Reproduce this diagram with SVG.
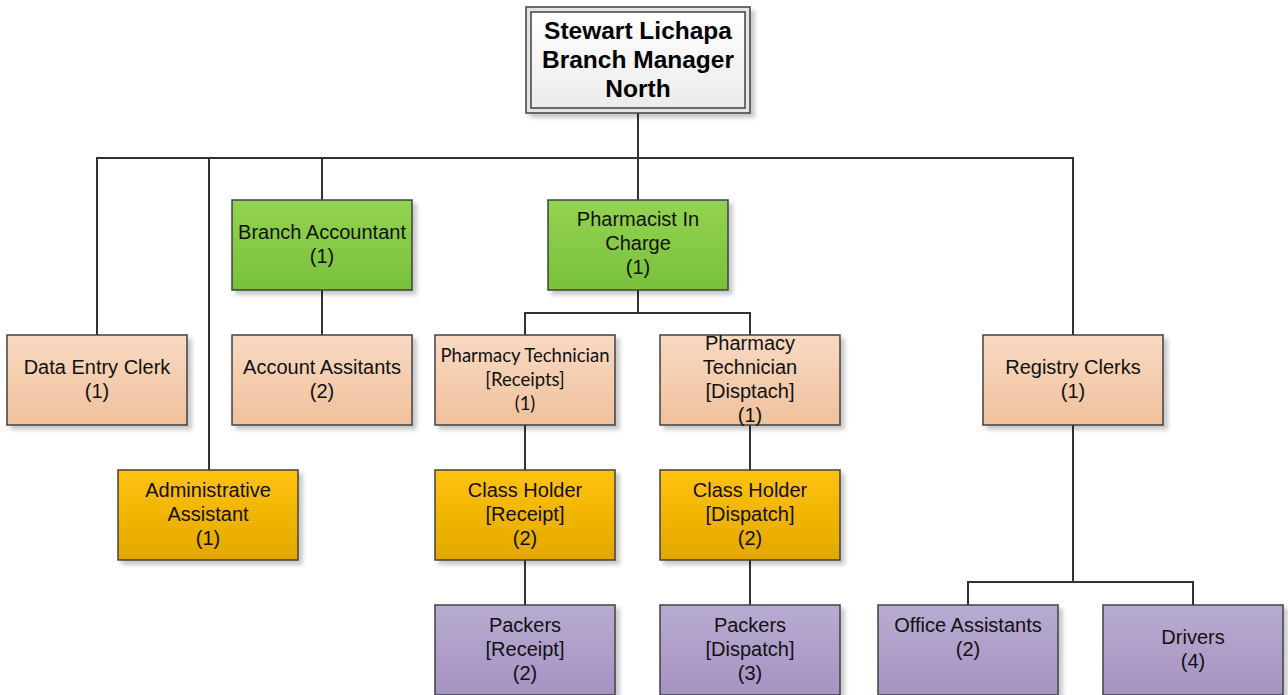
<svg xmlns="http://www.w3.org/2000/svg" width="1288" height="695" viewBox="0 0 1288 695">
  <defs>
    <linearGradient id="gGreen" x1="0" y1="0" x2="0" y2="1">
      <stop offset="0" stop-color="#94d352"/>
      <stop offset="1" stop-color="#78c13a"/>
    </linearGradient>
    <linearGradient id="gSalmon" x1="0" y1="0" x2="0" y2="1">
      <stop offset="0" stop-color="#f8d9c2"/>
      <stop offset="1" stop-color="#f0c19c"/>
    </linearGradient>
    <linearGradient id="gOrange" x1="0" y1="0" x2="0" y2="1">
      <stop offset="0" stop-color="#ffc20a"/>
      <stop offset="1" stop-color="#e3a800"/>
    </linearGradient>
    <linearGradient id="gPurple" x1="0" y1="0" x2="0" y2="1">
      <stop offset="0" stop-color="#b8abd0"/>
      <stop offset="1" stop-color="#a593c2"/>
    </linearGradient>
    <linearGradient id="gWhite" x1="0" y1="0" x2="0" y2="1">
      <stop offset="0" stop-color="#ffffff"/>
      <stop offset="1" stop-color="#ebebeb"/>
    </linearGradient>
    <filter id="shadow" x="-10%" y="-10%" width="130%" height="130%">
      <feDropShadow dx="4" dy="4" stdDeviation="2" flood-color="#000" flood-opacity="0.22"/>
    </filter>
  </defs>
  <style>
    .box { stroke: #404040; stroke-width: 1.5; filter: url(#shadow); }
    .green { fill: url(#gGreen); }
    .salmon { fill: url(#gSalmon); }
    .orange { fill: url(#gOrange); }
    .purple { fill: url(#gPurple); }
    .lbl { font-family: "Liberation Sans", Arial, sans-serif; font-size: 20px; fill: #111; text-anchor: middle; }
    .lbl2 { font-family: Lato, "Liberation Sans", sans-serif; font-size: 18.5px; fill: #111; text-anchor: middle; }
    .title { font-family: "Liberation Sans", Arial, sans-serif; font-size: 24.5px; font-weight: bold; fill: #000; text-anchor: middle; }
    .conn { fill: none; stroke: #333; stroke-width: 2; }
  </style>
  <rect width="1288" height="695" fill="#ffffff"/>

  <!-- connectors -->
  <g id="connectors" class="conn">
    <path d="M638 113 V158"/>
    <path d="M97 335 V158 H1073 V335"/>
    <path d="M209 158 V470"/>
    <path d="M322 158 V200"/>
    <path d="M638 158 V200"/>
    <path d="M322 290 V335"/>
    <path d="M638 290 V313"/>
    <path d="M525 335 V313 H750 V335"/>
    <path d="M525 425 V470"/>
    <path d="M525 560 V605"/>
    <path d="M750 425 V470"/>
    <path d="M750 560 V605"/>
    <path d="M1073 425 V582"/>
    <path d="M968 605 V582 H1193 V605"/>
  </g>

  <!-- manager -->
  <g id="manager">
    <rect x="526" y="7" width="224" height="106" fill="#e4e4e4" stroke="#404040" stroke-width="1.5" filter="url(#shadow)"/>
    <rect x="531" y="12" width="214" height="96" fill="url(#gWhite)" stroke="#404040" stroke-width="1.5"/>
    <text class="title" x="638" y="39">Stewart Lichapa</text>
    <text class="title" x="638" y="68">Branch Manager</text>
    <text class="title" x="638" y="97">North</text>
  </g>

  <g id="branch-accountant">
    <rect class="box green" x="232" y="200" width="180" height="90"/>
    <text class="lbl" x="322" y="239">Branch Accountant</text>
    <text class="lbl" x="322" y="263">(1)</text>
  </g>

  <g id="pharmacist">
    <rect class="box green" x="548" y="200" width="180" height="90"/>
    <text class="lbl" x="638" y="226">Pharmacist In</text>
    <text class="lbl" x="638" y="250">Charge</text>
    <text class="lbl" x="638" y="274">(1)</text>
  </g>

  <g id="data-entry-clerk">
    <rect class="box salmon" x="7" y="335" width="180" height="90"/>
    <text class="lbl" x="97" y="374">Data Entry Clerk</text>
    <text class="lbl" x="97" y="398">(1)</text>
  </g>

  <g id="account-assistants">
    <rect class="box salmon" x="232" y="335" width="180" height="90"/>
    <text class="lbl" x="322" y="374">Account Assitants</text>
    <text class="lbl" x="322" y="398">(2)</text>
  </g>

  <g id="tech-receipts">
    <rect class="box salmon" x="435" y="335" width="180" height="90"/>
    <text class="lbl2" x="525" y="362">Pharmacy Technician</text>
    <text class="lbl2" x="525" y="386">[Receipts]</text>
    <text class="lbl2" x="525" y="410">(1)</text>
  </g>

  <g id="tech-dispatch">
    <rect class="box salmon" x="660" y="335" width="180" height="90"/>
    <text class="lbl" x="750" y="350">Pharmacy</text>
    <text class="lbl" x="750" y="374">Technician</text>
    <text class="lbl" x="750" y="398">[Disptach]</text>
    <text class="lbl" x="750" y="422">(1)</text>
  </g>

  <g id="registry-clerks">
    <rect class="box salmon" x="983" y="335" width="180" height="90"/>
    <text class="lbl" x="1073" y="374">Registry Clerks</text>
    <text class="lbl" x="1073" y="398">(1)</text>
  </g>

  <g id="admin-assistant">
    <rect class="box orange" x="118" y="470" width="180" height="90"/>
    <text class="lbl" x="208" y="497">Administrative</text>
    <text class="lbl" x="208" y="521">Assistant</text>
    <text class="lbl" x="208" y="545">(1)</text>
  </g>

  <g id="class-holder-receipt">
    <rect class="box orange" x="435" y="470" width="180" height="90"/>
    <text class="lbl" x="525" y="497">Class Holder</text>
    <text class="lbl" x="525" y="521">[Receipt]</text>
    <text class="lbl" x="525" y="545">(2)</text>
  </g>

  <g id="class-holder-dispatch">
    <rect class="box orange" x="660" y="470" width="180" height="90"/>
    <text class="lbl" x="750" y="497">Class Holder</text>
    <text class="lbl" x="750" y="521">[Dispatch]</text>
    <text class="lbl" x="750" y="545">(2)</text>
  </g>

  <g id="packers-receipt">
    <rect class="box purple" x="435" y="605" width="180" height="90"/>
    <text class="lbl" x="525" y="632">Packers</text>
    <text class="lbl" x="525" y="656">[Receipt]</text>
    <text class="lbl" x="525" y="680">(2)</text>
  </g>

  <g id="packers-dispatch">
    <rect class="box purple" x="660" y="605" width="180" height="90"/>
    <text class="lbl" x="750" y="632">Packers</text>
    <text class="lbl" x="750" y="656">[Dispatch]</text>
    <text class="lbl" x="750" y="680">(3)</text>
  </g>

  <g id="office-assistants">
    <rect class="box purple" x="878" y="605" width="180" height="90"/>
    <text class="lbl" x="968" y="632">Office Assistants</text>
    <text class="lbl" x="968" y="656">(2)</text>
  </g>

  <g id="drivers">
    <rect class="box purple" x="1103" y="605" width="180" height="90"/>
    <text class="lbl" x="1193" y="644">Drivers</text>
    <text class="lbl" x="1193" y="668">(4)</text>
  </g>
</svg>
